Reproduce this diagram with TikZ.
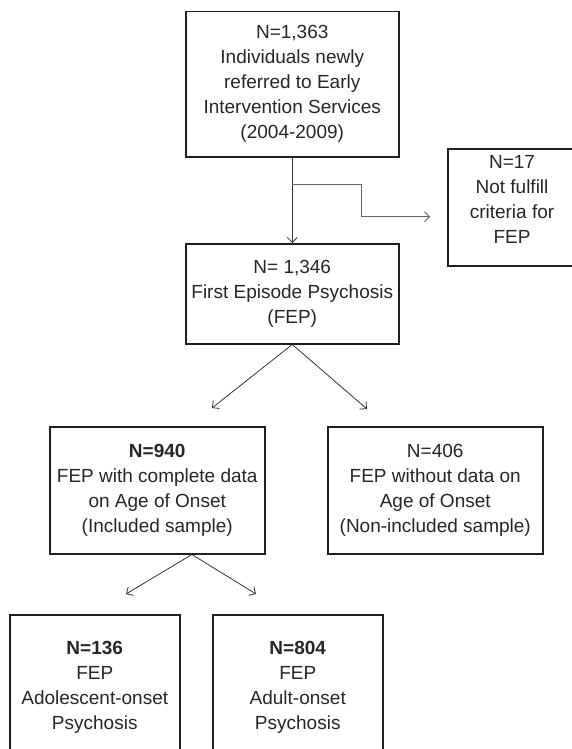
\documentclass[tikz,border=0pt]{standalone}
\usepackage{fontspec}
\setmainfont{Liberation Sans}
\usetikzlibrary{arrows.meta,calc}
\begin{document}
\begin{tikzpicture}[x=1pt,y=-1pt,
  box/.style={draw=black!88, line width=1.5pt, inner sep=0pt, anchor=north west,
    align=center, font=\fontsize{19}{25}\selectfont, text=black!85},
  txt/.style={inner sep=0pt, align=center, font=\fontsize{19}{25}\selectfont, text=black!85},
  conn/.style={draw=black!80, line width=0.8pt, -{Straight Barb[length=5pt,width=10pt]}},
  elbow/.style={draw=black!60, line width=0.8pt, -{Straight Barb[length=5pt,width=10pt]}},
]
\useasboundingbox (0,0) rectangle (571,749);

\node[box, minimum width=213pt, minimum height=145pt] (b1) at (185,11)
  {N=1,363\\Individuals newly\\referred to Early\\Intervention Services\\(2004-2009)};
\node[box, minimum width=213pt, minimum height=100pt] (b2) at (185,243)
  {N= 1,346\\First Episode Psychosis\\(FEP)};
\node[box, minimum width=130pt, minimum height=117pt] (b17) at (447,148) {};
\node[txt] (t17) at (512,199) {N=17\\Not fulfill\\criteria for\\FEP};
\node[box, minimum width=215pt, minimum height=127pt] (b940) at (49,426)
  {\textbf{N=940}\\FEP with complete data\\on Age of Onset\\(Included sample)};
\node[box, minimum width=215pt, minimum height=127pt] (b406) at (327,426)
  {N=406\\FEP without data on\\Age of Onset\\(Non-included sample)};
\node[box, minimum width=170pt, minimum height=146pt] (b136) at (9,614)
  {\textbf{N=136}\\FEP\\Adolescent-onset\\Psychosis};
\node[box, minimum width=170pt, minimum height=146pt] (b804) at (212,614)
  {\textbf{N=804}\\FEP\\Adult-onset\\Psychosis};

% vertical connector and elbow to exclusion box
\draw[conn] (b1.south) -- (b2.north);
\coordinate (e0) at ($(b1.south)!0.31!(b2.north)$);
\coordinate (e1) at ($(e0)+(69,0)$);
\coordinate (e2) at ($(b17.west)+(0,9.5)$);
\draw[elbow, shorten >=17pt] (e0) -- (e1) |- (e2);

% split from FEP box
\coordinate (t1) at (212,408);
\coordinate (t2) at (367,409);
\draw[conn] (b2.south) -- (t1);
\draw[conn] (b2.south) -- (t2);

% split from included sample box
\coordinate (s0) at ($(b940.south west)!0.66!(b940.south east)$);
\coordinate (t3) at (126,594);
\coordinate (t4) at (256,594);
\draw[conn] (s0) -- (t3);
\draw[conn] (s0) -- (t4);
\end{tikzpicture}
\end{document}
